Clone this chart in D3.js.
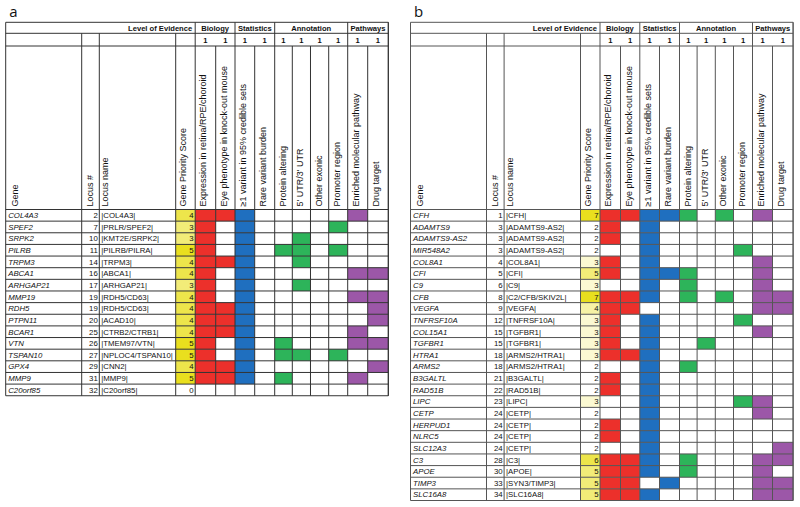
<!DOCTYPE html>
<html><head><meta charset="utf-8">
<script src="https://cdn.jsdelivr.net/npm/d3@7"></script>
<style>
body{margin:0;background:#fff;}
svg text{font-family:"Liberation Sans",Arial,sans-serif;fill:#111;}
</style></head><body>
<svg id="chart" width="800" height="507"></svg>
<script>
// ---------- data ----------
const fixedHeaders = ["Gene", "Locus #", "Locus name", "Gene Priority Score"];
const evidenceLabels = ["Expression in retina/RPE/choroid", "Eye phenotype  in knock-out mouse",
  "\u22651  variant in 95% credible sets", "Rare variant burden", "Protein altering",
  "5' UTR/3' UTR", "Other exonic", "Promoter region", "Enriched molecular pathway", "Drug target"];
const groupNames = ["Biology", "Statistics", "Annotation", "Pathways"];
const evidenceWeights = ["1", "1", "1", "1", "1", "1", "1", "1", "1", "1"];
const evidenceColors = ["#ec302b", "#ec302b", "#1f6fbf", "#1f6fbf", "#2db45a", "#2db45a", "#2db45a", "#2db45a", "#9c57a8", "#9c57a8"];

const genesA = ["COL4A3", "SPEF2", "SRPK2", "PILRB", "TRPM3", "ABCA1", "ARHGAP21", "MMP19", "RDH5", "PTPN11", "BCAR1", "VTN", "TSPAN10", "GPX4", "MMP9", "C20orf85"];
const locusNumA = [2, 7, 10, 11, 14, 16, 17, 19, 19, 20, 25, 26, 27, 29, 31, 32];
const locusNameA = ["|COL4A3|", "|PRLR/SPEF2|", "|KMT2E/SRPK2|", "|PILRB/PILRA|", "|TRPM3|", "|ABCA1|", "|ARHGAP21|", "|RDH5/CD63|", "|RDH5/CD63|", "|ACAD10|", "|CTRB2/CTRB1|", "|TMEM97/VTN|", "|NPLOC4/TSPAN10|", "|CNN2|", "|MMP9|", "|C20orf85|"];
const scoreA = [4, 3, 3, 5, 4, 4, 3, 4, 4, 4, 4, 5, 5, 4, 5, 0];
const evidenceA = ["1110000010", "1010000100", "1010010000", "1010110100", "1110010000", "1010000011",
  "1010010000", "1010000011", "1110000001", "1110000001", "1110000010", "1010100011",
  "1010110100", "1110000001", "1110100010", "0000000000"];

const genesB = ["CFH", "ADAMTS9", "ADAMTS9-AS2", "MIR548A2", "COL8A1", "CFI", "C9", "CFB", "VEGFA", "TNFRSF10A", "COL15A1", "TGFBR1", "HTRA1", "ARMS2", "B3GALTL", "RAD51B", "LIPC", "CETP", "HERPUD1", "NLRC5", "SLC12A3", "C3", "APOE", "TIMP3", "SLC16A8"];
const locusNumB = [1, 3, 3, 3, 4, 5, 6, 8, 9, 12, 15, 15, 18, 18, 21, 22, 23, 24, 24, 24, 24, 28, 30, 33, 34];
const locusNameB = ["|CFH|", "|ADAMTS9-AS2|", "|ADAMTS9-AS2|", "|ADAMTS9-AS2|", "|COL8A1|", "|CFI|", "|C9|", "|C2/CFB/SKIV2L|", "|VEGFA|", "|TNFRSF10A|", "|TGFBR1|", "|TGFBR1|", "|ARMS2/HTRA1|", "|ARMS2/HTRA1|", "|B3GALTL|", "|RAD51B|", "|LIPC|", "|CETP|", "|CETP|", "|CETP|", "|CETP|", "|C3|", "|APOE|", "|SYN3/TIMP3|", "|SLC16A8|"];
const scoreB = [7, 2, 2, 2, 3, 5, 3, 7, 4, 3, 3, 3, 3, 2, 2, 2, 3, 2, 2, 2, 2, 6, 5, 5, 5];
const evidenceB = ["1111101010", "1010000000", "1010000000", "0010000100", "1010000010", "1011100010",
  "0010100010", "1110101011", "1100000011", "1010000100", "1010000010", "1010010000",
  "1110000000", "0010100000", "1010000000", "1010000000", "0010000110", "0010000010",
  "1010000000", "1010000000", "0010000001", "1110100011", "1110100010", "1101000011", "1110000011"];

// ---------- layout ----------
const colEdges = [0, 76, 93.6, 170, 189.5, 210, 229.3, 249, 269, 286.6, 304.8, 323, 342, 362, 382.6];
const headerOffsets = [12, 11, 8.5, 10.5];
const yTop = 22.3, yRow1 = 33.3, yRow2 = 46, yData = 209.5, rowH = 11.64;

const svg = d3.select("#chart");

function drawPanel(letter, x0, lineColor, genes, locusNum, locusName, score, evidence) {
  const g = svg.append("g").attr("transform", `translate(${x0},0)`);
  const n = genes.length;
  const y = d3.scaleBand().domain(d3.range(n)).range([yData, yData + n * rowH]);
  const xEdge = d3.scaleOrdinal().domain(d3.range(colEdges.length)).range(colEdges);
  const ev = d3.scaleOrdinal().domain(d3.range(10)).range(d3.range(10).map(i => i + 4));
  const yBottom = yData + n * rowH;
  const right = xEdge(14);
  const scoreColor = d3.scaleLinear().domain([d3.min(score), d3.max(score)])
    .range(["#ffffff", "#e9df1e"]).clamp(true);

  svg.append("text").attr("x", x0 + 3.5).attr("y", 16.5).attr("font-size", 15)
    .style("font-family", "'Open Sans','Liberation Sans',sans-serif").text(letter);

  // score cells
  g.selectAll("rect.score").data(score).join("rect")
    .attr("x", xEdge(3)).attr("y", (d, i) => y(i))
    .attr("width", xEdge(4) - xEdge(3)).attr("height", y.bandwidth())
    .attr("fill", d => scoreColor(d));

  // evidence cells
  const cells = [];
  evidence.forEach((s, r) => s.split("").forEach((c, k) => { if (c === "1") cells.push({r, k}); }));
  g.selectAll("rect.ev").data(cells).join("rect")
    .attr("x", d => xEdge(ev(d.k))).attr("y", d => y(d.r))
    .attr("width", d => xEdge(ev(d.k) + 1) - xEdge(ev(d.k))).attr("height", y.bandwidth())
    .attr("fill", d => evidenceColors[d.k]);

  // grid lines
  const L = g.append("g").attr("stroke", lineColor).attr("stroke-width", 1).attr("fill", "none");
  const hl = (x1, x2, yy) => L.append("line").attr("x1", x1).attr("x2", x2).attr("y1", yy).attr("y2", yy);
  const vl = (xx, y1, y2) => L.append("line").attr("x1", xx).attr("x2", xx).attr("y1", y1).attr("y2", y2);
  hl(0, right, yTop); hl(0, right, yRow1); hl(0, right, yRow2);
  for (let i = 0; i <= n; i++) hl(0, right, i < n ? y(i) : yBottom);
  vl(0, yTop, yBottom); vl(right, yTop, yBottom);
  [1, 2, 3].forEach(c => vl(xEdge(c), yRow1, yBottom));
  const groupStart = [4, 6, 8, 12, 14];
  groupStart.forEach(c => vl(xEdge(c), yTop, yBottom));
  d3.range(5, 14).filter(c => !groupStart.includes(c)).forEach(c => vl(xEdge(c), yRow2, yBottom));

  // header texts
  g.append("text").attr("x", xEdge(4) - 3).attr("y", 30.8).attr("text-anchor", "end")
    .attr("font-size", 7.6).attr("font-weight", "bold").text("Level of Evidence");
  groupNames.forEach((name, gi) => {
    const a = xEdge(groupStart[gi]), b = xEdge(groupStart[gi + 1]);
    g.append("text").attr("x", (a + b) / 2).attr("y", 30.8).attr("text-anchor", "middle")
      .attr("font-size", 7.6).attr("font-weight", "bold").text(name);
  });
  evidenceWeights.forEach((w, k) => {
    const a = xEdge(ev(k)), b = xEdge(ev(k) + 1);
    g.append("text").attr("x", (a + b) / 2).attr("y", 43).attr("text-anchor", "middle")
      .attr("font-size", 7.6).attr("font-weight", "bold").text(w);
  });
  const rot = (xx, label) => g.append("text")
    .attr("transform", `translate(${xx},${yData - 3}) rotate(-90)`)
    .attr("font-size", 9).text(label);
  fixedHeaders.forEach((h, c) => rot(xEdge(c) + headerOffsets[c], h));
  evidenceLabels.forEach((h, k) => rot(xEdge(ev(k)) + 11, h));

  // data texts
  const base = i => y(i) + rowH / 2 + 2.8;
  const fs = 7.8;
  g.selectAll("text.gene").data(genes).join("text").attr("class", "gene")
    .attr("x", xEdge(0) + 2.5).attr("y", (d, i) => base(i)).attr("font-size", fs)
    .attr("font-style", "italic").text(d => d);
  g.selectAll("text.lnum").data(locusNum).join("text").attr("class", "lnum")
    .attr("x", xEdge(2) - 1.5).attr("y", (d, i) => base(i)).attr("font-size", fs)
    .attr("text-anchor", "end").text(d => d);
  g.selectAll("text.lname").data(locusName).join("text").attr("class", "lname")
    .attr("x", xEdge(2) + 2).attr("y", (d, i) => base(i)).attr("font-size", fs).text(d => d);
  g.selectAll("text.score").data(score).join("text").attr("class", "score")
    .attr("x", xEdge(4) - 1.5).attr("y", (d, i) => base(i)).attr("font-size", fs)
    .attr("text-anchor", "end").text(d => d);
}

drawPanel("a", 5.7, "#333", genesA, locusNumA, locusNameA, scoreA, evidenceA);
drawPanel("b", 410.5, "#555", genesB, locusNumB, locusNameB, scoreB, evidenceB);
</script>
</body></html>
